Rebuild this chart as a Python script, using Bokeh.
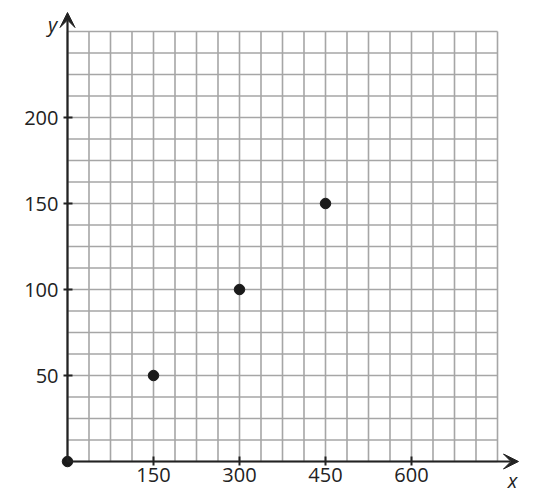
import numpy as np
from bokeh.plotting import figure
from bokeh.models import Range1d, LinearAxis, FixedTicker, Arrow, VeeHead, Label
from bokeh.embed import file_html
from bokeh.resources import INLINE

# data
x_vals = [0, 150, 300, 450]
y_vals = [0, 50, 100, 150]
x_ticks = [150, 300, 450, 600]
y_ticks = [50, 100, 150, 200]
x_max, y_max = 750, 250
x_step, y_step = 37.5, 12.5

W, H = 537, 493
# layout mapping (canvas px): origin position, 430 px = full grid
ox, oy = 67, 461
sx = 430 / x_max
sy = 430 / y_max

p = figure(width=W, height=H, output_backend="svg", toolbar_location=None,
           x_range=Range1d(-ox / sx, (W - ox) / sx),
           y_range=Range1d(-(H - oy) / sy, oy / sy),
           min_border=0, outline_line_color=None,
           x_axis_type=None, y_axis_type=None)
p.xgrid.visible = False
p.ygrid.visible = False

# grid
gx = np.arange(0, x_max + 0.1, x_step)
gy = np.arange(0, y_max + 0.1, y_step)
grid_color = "#a6a6a6"
p.segment(x0=gx, y0=[0] * len(gx), x1=gx, y1=[y_max] * len(gx),
          line_color=grid_color, line_width=1.6)
p.segment(x0=[0] * len(gy), y0=gy, x1=[x_max] * len(gy), y1=gy,
          line_color=grid_color, line_width=1.6)

font = "Open Sans"
ax_color = "#222222"

xaxis = LinearAxis(fixed_location=0, ticker=FixedTicker(ticks=x_ticks))
yaxis = LinearAxis(fixed_location=0, ticker=FixedTicker(ticks=y_ticks))
for ax in (xaxis, yaxis):
    ax.axis_line_color = None
    ax.major_tick_in = 5
    ax.major_tick_out = 4
    ax.major_tick_line_width = 2
    ax.major_tick_line_color = ax_color
    ax.minor_tick_line_color = None
    ax.major_label_text_font = font
    ax.major_label_text_font_size = "20px"
    ax.major_label_text_color = ax_color
xaxis.major_label_standoff = 2
yaxis.major_label_standoff = 5
p.add_layout(xaxis, "below")
p.add_layout(yaxis, "left")

# axis arrows
p.add_layout(Arrow(x_start=0, y_start=0, x_end=(518 - ox) / sx, y_end=0,
                   line_width=2.2, line_color=ax_color,
                   end=VeeHead(size=15, fill_color=ax_color, line_color=ax_color)))
p.add_layout(Arrow(x_start=0, y_start=0, x_end=0, y_end=(oy - 12) / sy,
                   line_width=2.2, line_color=ax_color,
                   end=VeeHead(size=15, fill_color=ax_color, line_color=ax_color)))

# points
p.scatter(x_vals, y_vals, size=10.5, color="#1a1a1a")

# axis letters
p.add_layout(Label(x=(512 - ox) / sx, y=(oy - 480) / sy, text="x",
                   text_font=font, text_font_style="italic", text_font_size="20px",
                   text_color=ax_color, text_align="center", text_baseline="alphabetic"))
p.add_layout(Label(x=(52 - ox) / sx, y=(oy - 24) / sy, text="y",
                   text_font=font, text_font_style="italic", text_font_size="20px",
                   text_color=ax_color, text_align="center", text_baseline="alphabetic"))

open("out.html", "w").write(file_html(p, INLINE))
